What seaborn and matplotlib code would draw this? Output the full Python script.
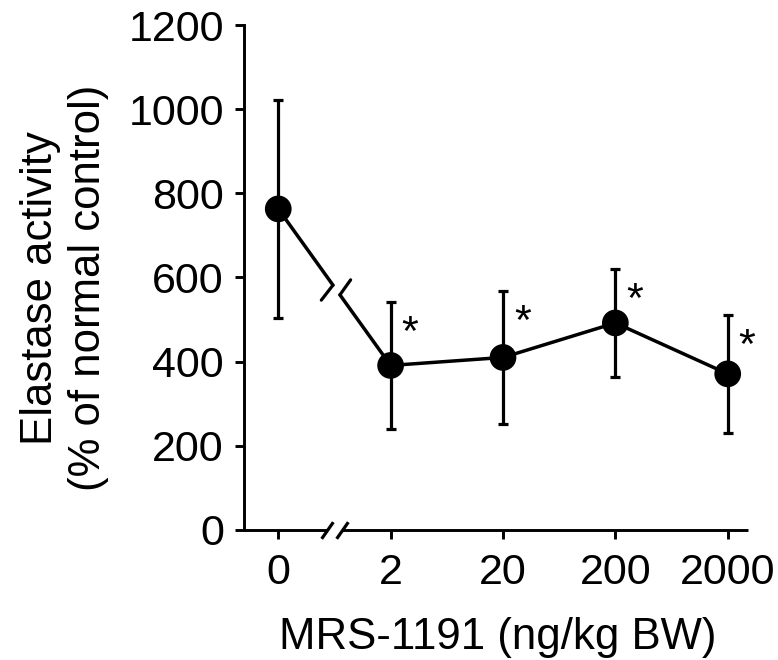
"""Elastase activity vs MRS-1191 dose - line chart with broken x axis"""

import numpy as np
import pandas as pd
import matplotlib
matplotlib.use("Agg")
import matplotlib.pyplot as plt
from matplotlib.path import Path
import seaborn as sns

sns.set_style("ticks")
plt.rcParams['font.family'] = ['Liberation Sans', 'DejaVu Sans']
plt.rcParams['text.color'] = 'black'
plt.rcParams['axes.labelcolor'] = 'black'

# values
doses = ['0', '2', '20', '200', '2000']
elastase_mean = [763, 391, 410, 492, 371]
elastase_sem = [259, 150, 157, 129, 140]
significant = [False, True, True, True, True]

df = pd.DataFrame({
    'pos': np.arange(len(doses)),
    'dose': doses,
    'mean': elastase_mean,
    'sem': elastase_sem,
})

XMIN, XMAX = -0.305, 4.183
BRK_A, BRK_B = 0.487, 0.549      # gap in the data line
AX_BRK = (0.438, 0.571)          # slashes on the x axis
LW = 2.3

fig = plt.figure(figsize=(7.78, 6.60), dpi=100)
ax = fig.add_axes([0.3136, 0.197, 0.6482, 0.7651])

# line for 2..2000
sns.lineplot(data=df.iloc[1:], x='pos', y='mean', color='black',
             linewidth=2.5, errorbar=None, ax=ax)

# broken segment between 0 and 2
y_a = np.interp(BRK_A, [0, 1], elastase_mean[:2])
y_b = np.interp(BRK_B, [0, 1], elastase_mean[:2])
ax.plot([0, BRK_A], [elastase_mean[0], y_a], color='black', lw=2.5)
ax.plot([BRK_B, 1], [y_b, elastase_mean[1]], color='black', lw=2.5)
slash_kw = dict(arrowstyle='-', lw=LW, color='black', shrinkA=0, shrinkB=0)
ax.annotate('', xy=(BRK_A, y_a), xytext=(-8.4, -10.8),
            textcoords='offset points', arrowprops=slash_kw)
ax.annotate('', xy=(BRK_B, y_b), xytext=(7.7, 10.8),
            textcoords='offset points', arrowprops=slash_kw)

# error bars
ax.errorbar(df['pos'], df['mean'], yerr=df['sem'], fmt='none', ecolor='black',
            elinewidth=LW, capsize=3.3, capthick=LW, zorder=3)

# markers
sns.scatterplot(data=df, x='pos', y='mean', s=370, color='black',
                edgecolor='none', zorder=5, ax=ax)

# significance stars
for p, m, s, sig in zip(df['pos'], elastase_mean, elastase_sem, significant):
    if sig:
        ax.annotate('*', xy=(p, m + s), xytext=(14, -23), textcoords='offset points',
                    ha='center', va='center', fontsize=31, color='black')

# axes
ax.set_xlim(XMIN, XMAX)
ax.set_ylim(0, 1200)
ax.set_xticks(df['pos'])
ax.set_xticklabels(doses)
ax.set_yticks(range(0, 1201, 200))
ax.tick_params(axis='both', width=2.1, length=6.5, labelsize=31, direction='out',
               color='black', labelcolor='black')
ax.tick_params(axis='x', pad=10)
ax.tick_params(axis='y', pad=8)

sns.despine(ax=ax)
ax.spines['left'].set_linewidth(2.1)
ax.spines['left'].set_color('black')
ax.spines['bottom'].set_visible(False)

# x axis with break
ax.plot([XMIN, AX_BRK[0]], [0, 0], color='black', lw=2.1, clip_on=False,
        solid_capstyle='butt', zorder=6)
ax.plot([AX_BRK[1], XMAX], [0, 0], color='black', lw=2.1, clip_on=False,
        solid_capstyle='butt', zorder=6)
slash = Path([(-0.7, -1.0), (0.7, 1.0)], [Path.MOVETO, Path.LINETO])
ax.plot(list(AX_BRK), [0, 0], linestyle='none', marker=slash, markersize=12,
        markeredgewidth=LW, color='black', clip_on=False, zorder=6)

ax.set_ylabel('Elastase activity\n(% of normal control)', fontsize=31.5, linespacing=1.2)
ax.yaxis.set_label_coords(-0.268, 0.480)
ax.set_xlabel('MRS-1191 (ng/kg BW)', fontsize=31.5)
ax.xaxis.set_label_coords(0.504, -0.172)

fig.savefig('out.png', dpi=100)
plt.close(fig)
